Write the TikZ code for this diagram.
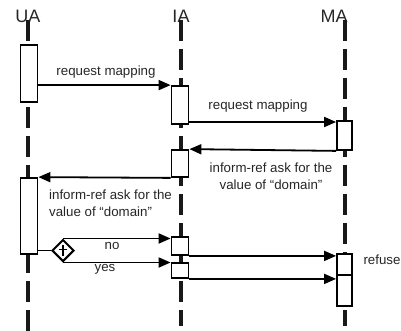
\documentclass[tikz,border=0pt]{standalone}
\usepackage{fontspec}
\setmainfont{Liberation Sans}
\usetikzlibrary{arrows.meta,shapes.geometric}
\begin{document}
\begin{tikzpicture}[x=1pt,y=-1pt,
  lifeline/.style={line width=3.4pt, dash pattern=on 21pt off 8pt, black!90},
  actbox/.style={draw, line width=1.8pt, fill=white, inner sep=0pt, minimum width=17pt},
  msg/.style={line width=1.8pt, -{Triangle[length=12pt,width=10pt]}},
  plain/.style={line width=1.8pt},
  lbl/.style={font=\fontsize{13.3}{17}\selectfont, inner sep=0pt, text=black!85},
  title/.style={font=\fontsize{18}{20}\selectfont, inner sep=0pt, text=black!85},
  dia/.style={diamond, draw, line width=2pt, fill=white, minimum width=22pt, minimum height=22pt, inner sep=0pt}]
\useasboundingbox (0,0) rectangle (401,331);
% titles
\node[title] (tua) at (28,16) {UA};
\node[title] (tia) at (181,16) {IA};
\node[title] (tma) at (334,16) {MA};
% lifelines
\coordinate (ua0) at (28,20); \coordinate (uaE) at (28,331);
\coordinate (ia0) at (181,20); \coordinate (iaE) at (181,326);
\coordinate (ma0) at (345,20); \coordinate (maE) at (345,326);
\draw[lifeline] (ua0) -- (uaE);
\draw[lifeline] (ia0) -- (iaE);
\draw[lifeline] (ma0) -- (maE);
% activation boxes
\node[actbox, minimum height=57pt] (ua1) at (29,73.5) {};
\node[actbox, minimum height=76pt] (ua2) at (29,216) {};
\node[actbox, minimum height=38pt] (ia1) at (180,105) {};
\node[actbox, minimum height=27pt] (ia2) at (180,163.5) {};
\node[actbox, minimum height=18pt] (ia3) at (180,246) {};
\node[actbox, minimum height=15pt] (ia4) at (180,270.5) {};
\node[actbox, minimum width=15pt, minimum height=29pt] (ma1) at (344.5,135.5) {};
\node[actbox, minimum width=15pt, minimum height=52pt] (ma3) at (344.5,280) {};
\coordinate (mdl) at (337,275); \coordinate (mdr) at (352,275);
\draw[plain] (mdl) -- (mdr);
% messages
\draw[msg] (ua1.east |- ia1.north) -- (ia1.north west);
\node[lbl] (l1) at (106,72) {request mapping};
\draw[msg] (ia1.east |- 0,122) -- (ma1.west |- 0,122);
\node[lbl] (l2) at (258,106) {request mapping};
\draw[msg] (ma1.south west) -- (ia2.north east);
\node[lbl, align=center] (l3) at (271,176) {inform-ref ask for the\\value of “domain”};
\draw[msg] (ia2.south west) -- (ua2.north east);
\node[lbl, align=left, anchor=west] (l4) at (49,203.5) {inform-ref ask for the\\value of “domain”};
% branch
\node[dia] (d) at (63,250.5) {};
\coordinate (dp1) at (63,245); \coordinate (dp2) at (63,256);
\coordinate (dp3) at (59,249.5); \coordinate (dp4) at (67,249.5);
\draw[line width=1.8pt] (dp1) -- (dp2) (dp3) -- (dp4);
\draw[plain] (ua2.east |- d.west) -- (d.west);
\draw[msg] (d.north) -- (ia3.west |- d.north);
\draw[msg] (d.south) -- (ia4.west |- d.south);
\node[lbl] (lno) at (112,246) {no};
\node[lbl] (lyes) at (105,269) {yes};
\draw[msg] (ia3.south east) -- (ma3.west |- ia3.south east);
\draw[msg] (ia4.south east) -- (ma3.west |- ia4.south east);
\node[lbl] (lref) at (382,260) {refuse};
\end{tikzpicture}
\end{document}
